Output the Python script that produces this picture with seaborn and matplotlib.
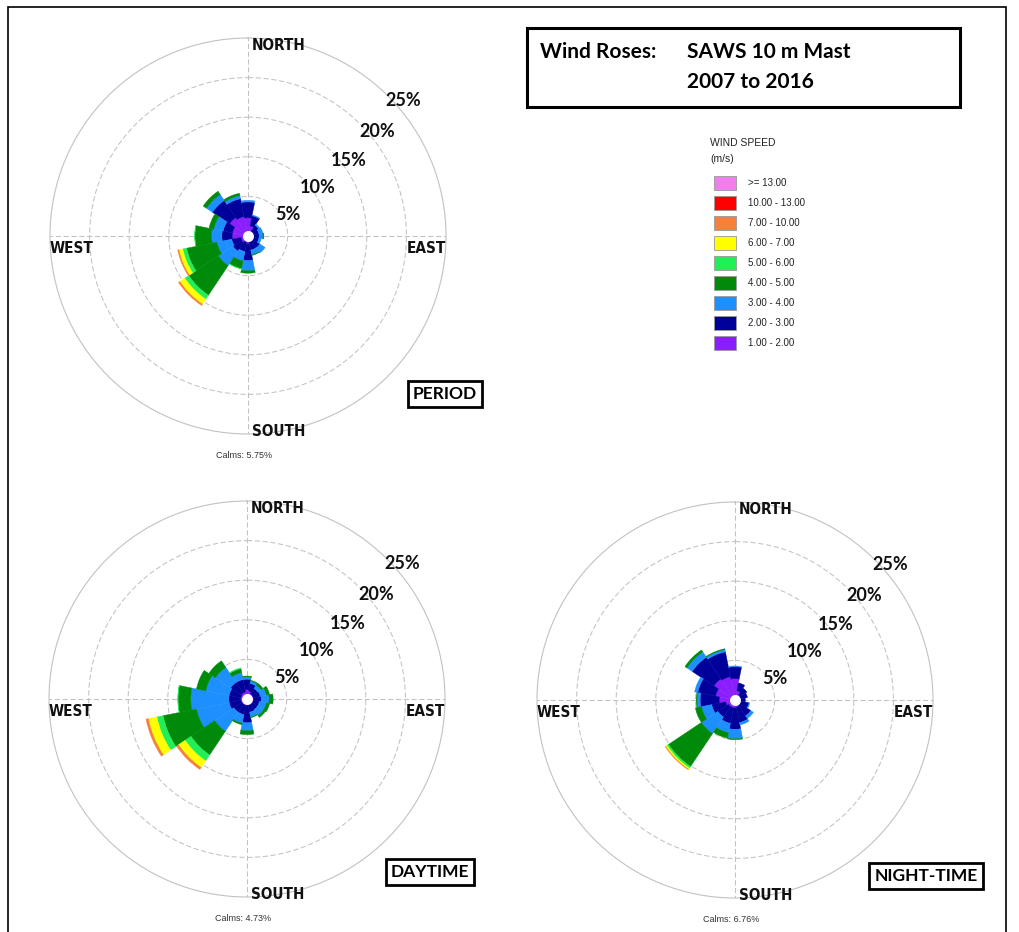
import numpy as np
import matplotlib
matplotlib.use("Agg")
import matplotlib.pyplot as plt
from matplotlib import font_manager
from matplotlib.patches import Rectangle
import seaborn as sns

# 16 compass sectors, clockwise from north
directions = ["N", "NNE", "NE", "ENE", "E", "ESE", "SE", "SSE",
              "S", "SSW", "SW", "WSW", "W", "WNW", "NW", "NNW"]

# wind speed classes (m/s), lowest first
speed_classes = ["1.00 - 2.00", "2.00 - 3.00", "3.00 - 4.00", "4.00 - 5.00",
                 "5.00 - 6.00", "6.00 - 7.00", "7.00 - 10.00", "10.00 - 13.00",
                 ">= 13.00"]
speed_colors = ["#8a1eff", "#00009a", "#1e8fff", "#008a0a", "#22ee5a",
                "#ffff00", "#f57f3d", "#ff0000", "#f07fee"]

# frequency (%) per speed class (rows) and direction (columns)
period_pct = [
    [2.3, 1.3, 0.7, 0.5, 0.5, 0.6, 0.8, 0.8, 1.0, 0.8, 1.0, 0.9, 2.0, 2.0, 2.8, 2.5],
    [2.0, 1.3, 0.9, 0.9, 0.9, 0.8, 1.0, 1.0, 2.1, 1.2, 1.3, 1.2, 1.3, 1.2, 2.6, 2.3],
    [0.2, 0.1, 0.2, 0.5, 0.5, 0.3, 0.8, 0.6, 1.3, 1.2, 2.2, 1.9, 1.3, 1.2, 0.9, 0.4],
    [0.0, 0.0, 0.0, 0.0, 0.1, 0.0, 0.0, 0.1, 0.3, 1.0, 4.5, 3.9, 2.1, 0.6, 0.5, 0.3],
    [0.0, 0.0, 0.0, 0.0, 0.0, 0.0, 0.0, 0.0, 0.0, 0.05, 0.6, 0.5, 0.05, 0.0, 0.0, 0.0],
    [0.0, 0.0, 0.0, 0.0, 0.0, 0.0, 0.0, 0.0, 0.0, 0.0, 0.75, 0.5, 0.0, 0.0, 0.0, 0.0],
    [0.0, 0.0, 0.0, 0.0, 0.0, 0.0, 0.0, 0.0, 0.0, 0.0, 0.2, 0.15, 0.0, 0.0, 0.0, 0.0],
    [0.0] * 16,
    [0.0] * 16,
]
daytime_pct = [
    [1.2, 1.0, 0.8, 0.8, 0.8, 0.7, 0.7, 0.7, 0.8, 0.8, 0.8, 0.8, 0.8, 0.8, 0.9, 0.9],
    [1.3, 1.0, 0.8, 0.9, 1.0, 0.9, 0.9, 1.0, 2.2, 1.2, 1.2, 1.5, 1.5, 1.5, 1.6, 1.6],
    [0.3, 0.3, 0.5, 0.8, 1.0, 0.9, 0.9, 0.6, 1.0, 1.1, 2.9, 4.2, 4.8, 3.0, 2.3, 0.9],
    [0.1, 0.1, 0.3, 0.4, 0.5, 0.4, 0.3, 0.1, 0.5, 0.2, 3.6, 4.3, 1.6, 1.2, 1.0, 0.5],
    [0.0, 0.0, 0.0, 0.0, 0.0, 0.0, 0.0, 0.0, 0.0, 0.0, 0.9, 0.8, 0.05, 0.0, 0.0, 0.1],
    [0.0, 0.0, 0.0, 0.0, 0.0, 0.0, 0.0, 0.0, 0.0, 0.0, 1.0, 1.1, 0.0, 0.0, 0.0, 0.0],
    [0.0, 0.0, 0.0, 0.0, 0.0, 0.0, 0.0, 0.0, 0.0, 0.0, 0.3, 0.3, 0.0, 0.0, 0.0, 0.0],
    [0.0] * 16,
    [0.0] * 16,
]
nighttime_pct = [
    [2.7, 1.2, 0.8, 0.7, 0.6, 0.7, 0.8, 0.9, 1.0, 1.0, 1.0, 1.2, 2.0, 2.5, 3.2, 3.0],
    [1.5, 1.0, 1.0, 0.9, 0.7, 1.1, 1.6, 2.0, 2.7, 2.0, 1.6, 1.8, 2.4, 2.3, 3.3, 3.2],
    [0.1, 0.0, 0.0, 0.0, 0.0, 0.1, 0.4, 0.3, 1.2, 1.2, 2.5, 1.3, 0.4, 0.4, 0.8, 0.3],
    [0.0, 0.0, 0.0, 0.0, 0.0, 0.0, 0.0, 0.0, 0.1, 0.7, 5.0, 0.8, 0.1, 0.0, 0.3, 0.1],
    [0.0, 0.0, 0.0, 0.0, 0.0, 0.0, 0.0, 0.0, 0.0, 0.0, 0.25, 0.0, 0.0, 0.0, 0.0, 0.0],
    [0.0, 0.0, 0.0, 0.0, 0.0, 0.0, 0.0, 0.0, 0.0, 0.0, 0.2, 0.0, 0.0, 0.0, 0.0, 0.0],
    [0.0, 0.0, 0.0, 0.0, 0.0, 0.0, 0.0, 0.0, 0.0, 0.0, 0.05, 0.0, 0.0, 0.0, 0.0, 0.0],
    [0.0] * 16,
    [0.0] * 16,
]

rose_titles = ["PERIOD", "DAYTIME", "NIGHT-TIME"]
calm_values = [5.75, 4.73, 6.76]
ring_levels = [5, 10, 15, 20, 25]
ring_label_bearing = [62, 55, 53, 51, 49]

sns.set_theme(style="white")
plt.rcParams["font.family"] = ["Liberation Sans", "DejaVu Sans"]
palette = sns.color_palette(speed_colors)

W, H = 1020, 932
fig = plt.figure(figsize=(W / 100, H / 100), dpi=100)
fig.patch.set_facecolor("white")

GRID = "#c2c2c2"
BOLDFACE = ["Lato", "DejaVu Sans"]

# condensed face for the compass labels
installed = {f.name for f in font_manager.fontManager.ttflist}
if "Liberation Sans Narrow" in installed:
    COMPASS = dict(family=["Liberation Sans Narrow", "DejaVu Sans"], fontsize=12.5)
else:
    COMPASS = dict(family=["DejaVu Sans"], fontstretch="condensed", fontsize=11)


def px_rect(cx, cy, r):
    return [(cx - r) / W, (H - cy - r) / H, 2 * r / W, 2 * r / H]


def draw_rose(center, table, calm, title, title_xy):
    ax = fig.add_axes(px_rect(*center, 198), projection="polar")
    ax.set_theta_zero_location("N")
    ax.set_theta_direction(-1)
    theta = np.deg2rad(np.arange(len(directions)) * 22.5)
    width = 2 * np.pi / len(directions)
    bottom = np.zeros(len(directions))
    for values, color in zip(table, palette):
        values = np.asarray(values, dtype=float)
        shown = values > 0
        if shown.any():
            ax.bar(theta[shown], values[shown], width=width, bottom=bottom[shown],
                   color=color, edgecolor=color, linewidth=0.3, align="center",
                   zorder=3)
        bottom += values
    # calm hole in the middle
    ring = np.linspace(0, 2 * np.pi, 120)
    ax.fill_between(ring, 0, 0.6, color="white", zorder=4)

    ax.set_ylim(0, ring_levels[-1])
    ax.set_yticks(ring_levels[:-1])
    ax.set_yticklabels([])
    ax.set_xticks(np.deg2rad([0, 90, 180, 270]))
    ax.set_xticklabels([])
    ax.grid(True, color=GRID, linewidth=0.75, linestyle=(0, (5, 2.5)))
    ax.spines["polar"].set_color(GRID)
    ax.spines["polar"].set_linewidth(0.8)
    ax.set_axisbelow(True)
    ax.set_facecolor("none")

    for level, bearing in zip(ring_levels, ring_label_bearing):
        ax.text(np.deg2rad(bearing), level + 0.7 + (level - 5) * 0.015, f"{level}%",
                ha="center", va="center", fontsize=13, fontweight="bold",
                family=BOLDFACE, color="#111111", clip_on=False, zorder=6)

    kw = dict(fontweight="bold", color="#111111",
              transform=ax.transAxes, clip_on=False, zorder=6, **COMPASS)
    ax.text(0.51, 0.981, "NORTH", ha="left", va="center", **kw)
    ax.text(0.51, 0.007, "SOUTH", ha="left", va="center", **kw)
    ax.text(0.0, 0.468, "WEST", ha="left", va="center", **kw)
    ax.text(1.0, 0.468, "EAST", ha="right", va="center", **kw)
    ax.text(0.49, -0.055, f"Calms: {calm:.2f}%", ha="center", va="center",
            fontsize=6.5, color="#333333", transform=ax.transAxes)

    fig.text(title_xy[0] / W, 1 - title_xy[1] / H, title, ha="center", va="center",
             fontsize=12.5, fontweight="bold", family=BOLDFACE, color="black",
             bbox=dict(boxstyle="square,pad=0.3", facecolor="white",
                       edgecolor="black", linewidth=2))
    return ax


draw_rose((248, 236), period_pct, calm_values[0], rose_titles[0], (445, 394))
draw_rose((247, 699), daytime_pct, calm_values[1], rose_titles[1], (430, 872))
draw_rose((735, 700), nighttime_pct, calm_values[2], rose_titles[2], (926, 876))

# title panel
fig.patches.append(Rectangle((527 / W, 1 - 107 / H), 433 / W, 79 / H,
                             transform=fig.transFigure, facecolor="white",
                             edgecolor="black", linewidth=2.2))
tkw = dict(fontsize=15, fontweight="bold", family=BOLDFACE, color="black",
           ha="left", va="center")
fig.text(540 / W, 1 - 52 / H, "Wind Roses:", **tkw)
fig.text(687 / W, 1 - 52 / H, "SAWS 10 m Mast", **tkw)
fig.text(687 / W, 1 - 82 / H, "2007 to 2016", **tkw)

# speed legend, highest class on top
fig.text(710 / W, 1 - 143 / H, "WIND SPEED", fontsize=7.5, color="#222222",
         ha="left", va="center")
fig.text(710 / W, 1 - 159 / H, "(m/s)", fontsize=7.5, color="#222222",
         ha="left", va="center")
for i, (label, color) in enumerate(zip(speed_classes[::-1], list(palette)[::-1])):
    top = 176 + 20 * i
    fig.patches.append(Rectangle((714 / W, 1 - (top + 14) / H), 22 / W, 14 / H,
                                 transform=fig.transFigure, facecolor=color,
                                 edgecolor="#9a9a9a", linewidth=0.6))
    fig.text(748 / W, 1 - (top + 7) / H, label, fontsize=7, color="#222222",
             ha="left", va="center")

# page frame
fig.patches.append(Rectangle((8 / W, -0.02), 998 / W, 1 - 7 / H + 0.02,
                             transform=fig.transFigure, facecolor="none",
                             edgecolor="black", linewidth=1.2, zorder=-1))

fig.savefig("out.png", dpi=100, facecolor="white")
